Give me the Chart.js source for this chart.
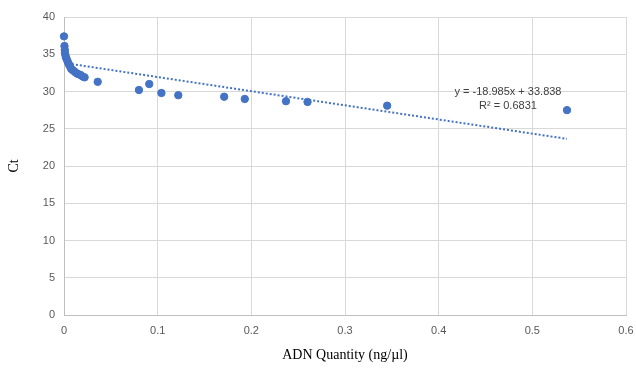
<!DOCTYPE html>
<html lang="en">
<head>
<meta charset="UTF-8">
<title>Ct vs ADN Quantity</title>
<script src="https://cdn.jsdelivr.net/npm/chart.js"></script>
<style>
  body { margin: 0; background: #fff; }
</style>
</head>
<body>
<canvas id="chart" width="636" height="371"></canvas>
<script>
// ADN quantity (ng/µl) and measured Ct
const quantities = [0, 0.0005, 0.0008, 0.001, 0.0015, 0.002, 0.003, 0.004, 0.005, 0.006, 0.007, 0.008, 0.010, 0.012, 0.014, 0.016, 0.018, 0.020, 0.022,
  0.036, 0.080, 0.091, 0.104, 0.122, 0.171, 0.193, 0.237, 0.260, 0.345, 0.537];
const ctValues = [37.4, 36.1, 35.6, 35.2, 34.9, 34.6, 34.3, 34.0, 33.7, 33.5, 33.2, 33.0, 32.8, 32.6, 32.4, 32.3, 32.2, 32.0, 31.9,
  31.3, 30.2, 31.0, 29.8, 29.5, 29.3, 29.0, 28.7, 28.6, 28.1, 27.5];

// linear trendline shown on the chart
const slope = -18.985;
const intercept = 33.838;
const trendRange = [0, 0.537];
const trendText = ["y = -18.985x + 33.838", "R\u00b2 = 0.6831"];
const trendTextAt = [0.474, 29.0];

const blue = "#4472C4";

const points = quantities.map((q, i) => ({ x: q, y: ctValues[i] }));
const trend = trendRange.map(q => ({ x: q, y: slope * q + intercept }));

const trendLabel = {
  id: "trendLabel",
  afterDatasetsDraw(chart) {
    const ctx = chart.ctx;
    const xs = chart.scales.x, ys = chart.scales.y;
    const px = xs.getPixelForValue(trendTextAt[0]);
    const py = ys.getPixelForValue(trendTextAt[1]);
    ctx.save();
    ctx.font = "11px 'Liberation Sans'";
    ctx.fillStyle = "#404040";
    ctx.textAlign = "center";
    ctx.textBaseline = "middle";
    ctx.fillText(trendText[0], px, py - 7);
    ctx.fillText(trendText[1], px, py + 7);
    ctx.restore();
  }
};

new Chart(document.getElementById("chart"), {
  type: "scatter",
  data: {
    datasets: [
      {
        data: points,
        backgroundColor: blue,
        borderColor: blue,
        pointRadius: 3.7,
        pointHoverRadius: 3.7,
        clip: false
      },
      {
        type: "line",
        data: trend,
        borderColor: blue,
        borderWidth: 2,
        borderDash: [2, 2],
        pointRadius: 0,
        fill: false
      }
    ]
  },
  options: {
    responsive: false,
    animation: false,
    layout: { padding: { top: 17, right: 10 } },
    plugins: { legend: { display: false }, tooltip: { enabled: false } },
    scales: {
      x: {
        type: "linear",
        min: 0,
        max: 0.6,
        ticks: { stepSize: 0.1, color: "#595959", font: { family: "Liberation Sans", size: 11 }, padding: 9 },
        grid: { color: "#d9d9d9", drawTicks: false },
        border: { color: "#bfbfbf" },
        title: { display: true, text: "ADN Quantity (ng/\u00b5l)", color: "#000", font: { family: "Liberation Serif", size: 14 }, padding: { top: 0, bottom: 7 } },
        afterFit(scale) {
          scale.height = 56;
          scale.paddingLeft = 0;
          scale.paddingRight = 0;
        }
      },
      y: {
        min: 0,
        max: 40,
        ticks: { stepSize: 5, color: "#595959", font: { family: "Liberation Sans", size: 11 }, padding: 9 },
        grid: { color: "#d9d9d9", drawTicks: false },
        border: { color: "#bfbfbf" },
        title: { display: true, text: "Ct", color: "#000", font: { family: "Liberation Serif", size: 14 }, padding: { top: 6 } },
        afterFit(scale) {
          scale.width = 64;
          scale.paddingTop = 0;
          scale.paddingBottom = 0;
        }
      }
    }
  },
  plugins: [trendLabel]
});
</script>
</body>
</html>
